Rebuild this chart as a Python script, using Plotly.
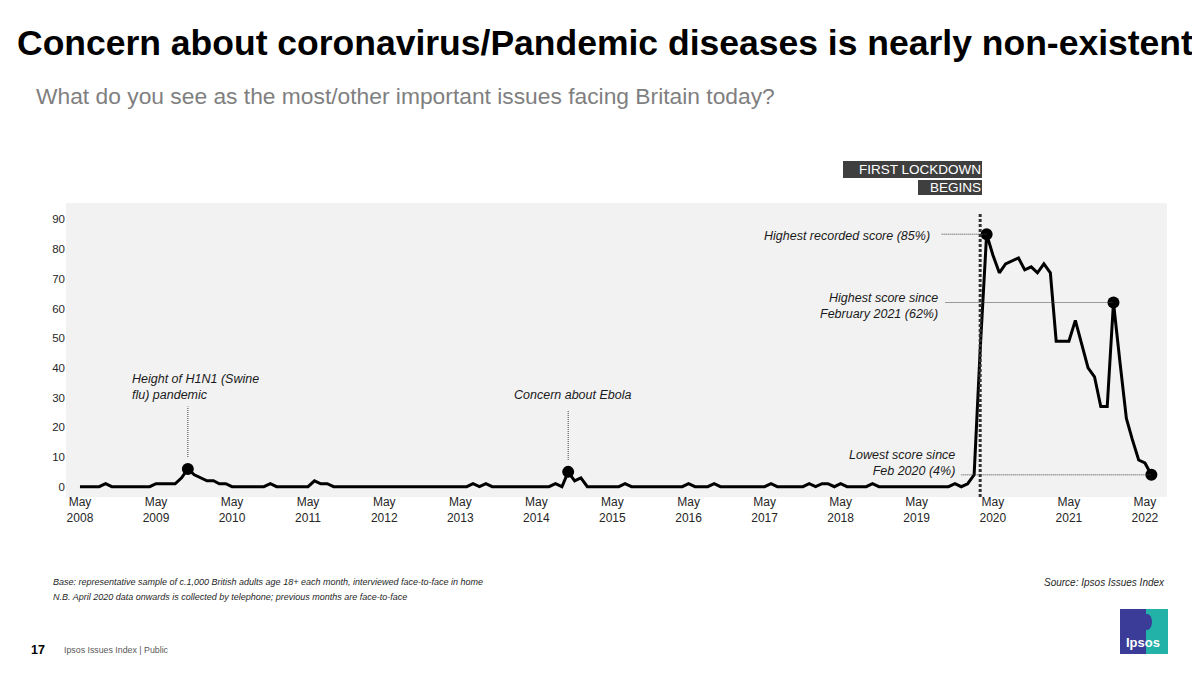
import plotly.graph_objects as go
import pandas as pd

# Monthly share mentioning coronavirus / pandemic diseases (%), May 2008 - Jun 2022
values = [
    0, 0, 0, 0, 1, 0, 0, 0, 0, 0, 0, 0,        # May08-Apr09
    1, 1, 1, 1, 3, 6, 4, 3, 2, 2, 1, 1,        # May09-Apr10
    0, 0, 0, 0, 0, 0, 1, 0, 0, 0, 0, 0,        # May10-Apr11
    0, 2, 1, 1, 0, 0, 0, 0, 0, 0, 0, 0,        # May11-Apr12
    0, 0, 0, 0, 0, 0, 0, 0, 0, 0, 0, 0,        # May12-Apr13
    0, 0, 1, 0, 1, 0, 0, 0, 0, 0, 0, 0,        # May13-Apr14
    0, 0, 0, 1, 0, 5, 2, 3, 0, 0, 0, 0,        # May14-Apr15
    0, 0, 1, 0, 0, 0, 0, 0, 0, 0, 0, 0,        # May15-Apr16
    1, 0, 0, 0, 1, 0, 0, 0, 0, 0, 0, 0,        # May16-Apr17
    0, 1, 0, 0, 0, 0, 0, 1, 0, 1, 1, 0,        # May17-Apr18
    1, 0, 0, 0, 0, 1, 0, 0, 0, 0, 0, 0,        # May18-Apr19
    0, 0, 0, 0, 0, 0, 1, 0, 1, 4, 46, 85,      # May19-Apr20
    78, 72, 75, 76, 77, 73, 74, 72, 75, 72, 49, 49,  # May20-Apr21
    49, 56, 48, 40, 37, 27, 27, 62, 42, 23, 16, 9,   # May21-Apr22
    8, 4,                                      # May22-Jun22
]
months = pd.date_range("2008-05-01", periods=len(values), freq="MS")

tick_years = list(range(2008, 2023))
tick_vals = [f"{y}-05-01" for y in tick_years]
tick_text = [f"May<br>{y}" for y in tick_years]
y_ticks = list(range(0, 100, 10))

h1n1_idx = 17
ebola_idx = 77
peak_idx = 143
omicron_idx = 163
last_idx = len(values) - 1
lockdown_idx = 142
highlight_idx = [h1n1_idx, ebola_idx, peak_idx, omicron_idx, last_idx]

FONT = "Liberation Sans, Arial, sans-serif"

# plot-area geometry in screen pixels (page body adds an 8px offset)
OFF = 8
L, T, W, H = 66, 203, 1101, 294
def px(x):
    return (x - L) / W
def py(y):
    return (T + H - y) / H

fig = go.Figure()
fig.add_trace(go.Scatter(
    x=months, y=values, mode="lines",
    line=dict(color="black", width=3), hoverinfo="skip", showlegend=False,
))
fig.add_trace(go.Scatter(
    x=[months[i] for i in highlight_idx], y=[values[i] for i in highlight_idx],
    mode="markers", marker=dict(color="black", size=12), hoverinfo="skip", showlegend=False,
))

shapes = []
# lockdown dotted line
shapes.append(dict(type="line", xref="x", yref="paper", x0=months[lockdown_idx], x1=months[lockdown_idx],
                   y0=0, y1=py(213), line=dict(color="#333333", width=3, dash="3px,2px"), layer="above"))
leader = dict(color="#404040", width=1, dash="1px,1px")
# vertical leaders
shapes.append(dict(type="line", xref="x", yref="y", x0=months[h1n1_idx], x1=months[h1n1_idx],
                   y0=10, y1=27, line=leader))
shapes.append(dict(type="line", xref="x", yref="y", x0=months[ebola_idx], x1=months[ebola_idx],
                   y0=9, y1=25.5, line=leader))
# horizontal leaders
for idx, start in [(peak_idx, -45), (omicron_idx, -168), (last_idx, -190)]:
    shapes.append(dict(type="line", xref="x", yref="y", xsizemode="pixel", xanchor=months[idx],
                       x0=start, x1=0, y0=values[idx], y1=values[idx], line=leader))
# Ipsos logo
shapes.append(dict(type="rect", xref="paper", yref="paper", x0=px(1120), x1=px(1146), y0=py(654), y1=py(609),
                   fillcolor="#3b3c98", line=dict(width=0)))
shapes.append(dict(type="rect", xref="paper", yref="paper", x0=px(1146), x1=px(1168), y0=py(654), y1=py(609),
                   fillcolor="#22b2a8", line=dict(width=0)))
shapes.append(dict(type="circle", xref="paper", yref="paper", x0=px(1142), x1=px(1152), y0=py(630), y1=py(614),
                   fillcolor="#3b3c98", line=dict(width=0)))

ann = []
def add(text, x, y, xa="left", ya="middle", size=12.5, color="#1a1a1a", align="left", **kw):
    ann.append(dict(text=text, x=px(x), y=py(y), xref="paper", yref="paper", xanchor=xa, yanchor=ya,
                    showarrow=False, align=align, font=dict(family=FONT, size=size, color=color), **kw))

add("<b>Concern about coronavirus/Pandemic diseases is nearly non-existent</b>", 15, 43, size=35.5, color="black")
add("What do you see as the most/other important issues facing Britain today?", 34, 96, size=22.8, color="#7f7f7f")
add("FIRST LOCKDOWN", 981.7, 169, xa="right", size=13.5, color="white", align="right",
    bgcolor="#3f3f3f", width=137, height=14.6, borderpad=1, borderwidth=0)
add("BEGINS", 981.7, 187.5, xa="right", size=13.5, color="white", align="right",
    bgcolor="#3f3f3f", width=62, height=13, borderpad=1, borderwidth=0)
add("<i>Height of H1N1 (Swine<br>flu) pandemic</i>", 130, 387)
add("<i>Concern about Ebola</i>", 572, 395, xa="center", align="center")
add("<i>Highest recorded score (85%)</i>", 932, 236, xa="right", align="right")
add("<i>Highest score since<br>February 2021 (62%)</i>", 940, 305.5, xa="right", align="right")
add("<i>Lowest score since<br>Feb 2020 (4%)</i>", 957, 462.5, xa="right", align="right")
add("<i>Base: representative sample of c.1,000 British adults age 18+ each month, interviewed face-to-face in home</i>",
    51, 581.7, size=9, color="#262626")
add("<i>N.B. April 2020 data onwards is collected by telephone; previous months are face-to-face</i>",
    51, 596.7, size=9, color="#262626")
add("<i>Source: Ipsos Issues Index</i>", 1167, 582.5, xa="right", align="right", size=10, color="#262626")
add("<b>17</b>", 29, 650, size=12.5, color="black")
add("Ipsos Issues Index | Public", 62, 650, size=8.8, color="#595959")
add("<b>Ipsos</b>", 1143, 642, xa="center", align="center", size=13, color="white")

fig.update_layout(
    width=1200, height=673,
    margin=dict(l=L - OFF, r=1200 - (L - OFF) - W, t=T - OFF, b=673 - (T - OFF) - H),
    paper_bgcolor="white", plot_bgcolor="#f2f2f2",
    shapes=shapes, annotations=ann,
    font=dict(family=FONT, color="#262626"),
    xaxis=dict(type="date", range=["2008-02-24", "2022-08-15"], tickvals=tick_vals, ticktext=tick_text,
               showgrid=False, zeroline=False, showline=False, ticks="", ticklabelstandoff=-4,
               tickfont=dict(size=12, color="#262626")),
    yaxis=dict(range=[-3.46, 95.5], tickvals=y_ticks, showgrid=False, zeroline=False, showline=False,
               ticks="", tickfont=dict(size=11.5, color="#262626")),
)

fig.write_html("out.html")
